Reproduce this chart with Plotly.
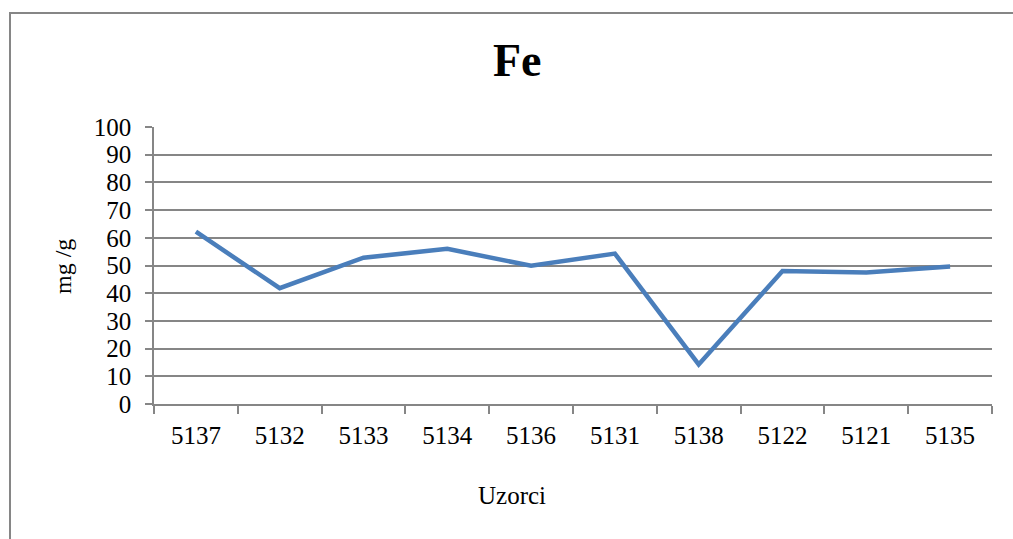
import plotly.graph_objects as go

categories = ["5137", "5132", "5133", "5134", "5136", "5131", "5138", "5122", "5121", "5135"]
fe_values = [62.2, 41.8, 52.8, 56.0, 49.9, 54.3, 14.3, 48.0, 47.5, 49.6]
y_ticks = [0, 10, 20, 30, 40, 50, 60, 70, 80, 90, 100]

W, H = 1013, 539
L, R, T, B = 154, 21, 127, 135
pw, ph = W - L - R, H - T - B

def px_x(p):
    return (p - L) / pw

def px_y(p):
    return (H - B - p) / ph

FONT = "Liberation Serif"
GRID = "#868686"

fig = go.Figure()
fig.add_trace(go.Scatter(
    x=categories, y=fe_values, mode="lines",
    line=dict(color="#4a7ebb", width=4.5),
    hoverinfo="skip", showlegend=False,
))

fig.update_layout(
    width=W, height=H,
    margin=dict(l=L, r=R, t=T, b=B, pad=0),
    paper_bgcolor="white", plot_bgcolor="white",
    font=dict(family=FONT, color="black", size=25),
    xaxis=dict(
        type="category", categoryorder="array", categoryarray=categories,
        range=[-0.5, len(categories) - 0.5],
        tickson="boundaries", ticks="outside", ticklen=8, tickwidth=1.5, tickcolor=GRID,
        showline=True, linecolor=GRID, linewidth=1.5,
        showgrid=False, zeroline=False,
        tickfont=dict(family=FONT, size=25),
        ticklabelstandoff=8,
    ),
    yaxis=dict(
        range=[0, 100], tickvals=y_ticks, ticktext=[str(v) for v in y_ticks],
        ticks="outside", ticklen=7, tickwidth=1.5, tickcolor=GRID,
        showline=True, linecolor=GRID, linewidth=1.5,
        showgrid=True, gridcolor=GRID, gridwidth=1.5, zeroline=False,
        tickfont=dict(family=FONT, size=25),
        ticklabelstandoff=9,
    ),
    annotations=[
        dict(text="<b>Fe</b>", xref="paper", yref="paper",
             x=px_x(517), y=px_y(61), xanchor="center", yanchor="middle",
             showarrow=False, font=dict(family=FONT, size=46, color="black")),
        dict(text="mg /g", xref="paper", yref="paper", textangle=-90,
             x=px_x(63), y=px_y(267), xanchor="center", yanchor="middle",
             showarrow=False, font=dict(family=FONT, size=24, color="black")),
        dict(text="Uzorci", xref="paper", yref="paper",
             x=px_x(512), y=px_y(495), xanchor="center", yanchor="middle",
             showarrow=False, font=dict(family=FONT, size=25, color="black")),
    ],
    shapes=[
        dict(type="rect", xref="paper", yref="paper",
             x0=px_x(10), x1=px_x(1030), y0=px_y(560), y1=px_y(13),
             line=dict(color=GRID, width=2), fillcolor="rgba(0,0,0,0)", layer="below"),
    ],
)

fig.write_html("out.html", config={"displayModeBar": False},
               post_script="document.body.style.margin='0';document.body.style.overflow='hidden';")
